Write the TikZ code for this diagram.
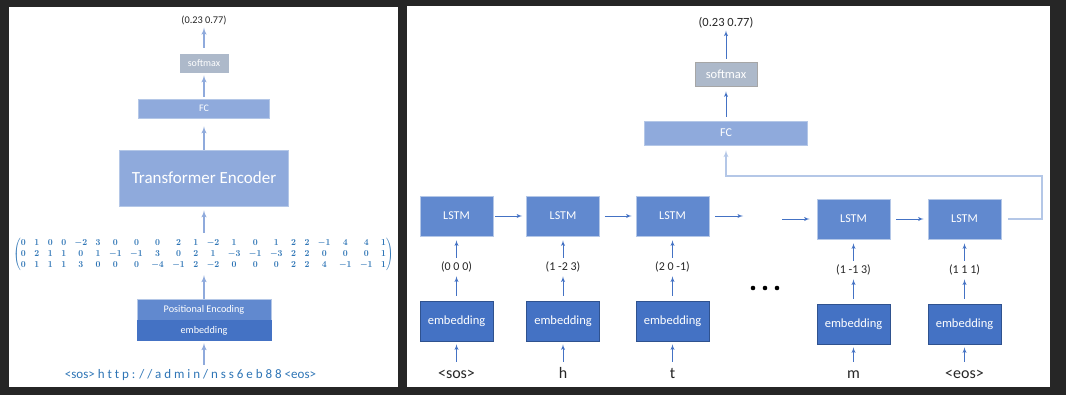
\documentclass[tikz,border=0pt]{standalone}
\usepackage{fontspec}
\setmainfont{Carlito}
\usepackage{amsmath}
\usepackage{graphicx}
\usetikzlibrary{arrows,positioning}
\setcounter{MaxMatrixCols}{21}

\definecolor{darkbg}{HTML}{262626}
\definecolor{lstmblue}{HTML}{6189CF}
\definecolor{embblue}{HTML}{4472C4}
\definecolor{embedge}{HTML}{2F528F}
\definecolor{fcblue}{HTML}{8FAADC}
\definecolor{paleblue}{HTML}{B4C7E7}
\definecolor{smgray}{HTML}{ADB9CA}
\definecolor{txtblue}{HTML}{2E75B6}
\definecolor{txtdark}{HTML}{262626}

\tikzset{
  blk/.style  = {inner sep=0pt, text=white, line width=0.8pt},
  lstm/.style = {blk, fill=lstmblue, draw=paleblue, minimum width=73pt,
                 minimum height=40pt, font=\fontsize{12}{14}\selectfont},
  emb/.style  = {blk, fill=embblue, draw=embedge, minimum width=73pt,
                 minimum height=40pt, font=\fontsize{12.5}{15}\selectfont},
  lbl/.style  = {inner sep=1pt, text=txtdark},
  tok/.style  = {inner sep=1pt, anchor=base, text height=11pt, text depth=3pt,
                 text=txtdark, font=\fontsize{16}{19}\selectfont},
  arr/.style  = {-latex', draw=embblue, line width=0.9pt},
  larr/.style = {-latex', draw=fcblue, line width=1.4pt},
  link/.style = {-latex', draw=paleblue, line width=1.3pt},
}

\begin{document}
\begin{tikzpicture}[x=1pt, y=-1pt, node distance=0pt]
\fill[darkbg] (0,0) rectangle (1066,395);
%
% transformer side
\fill[white] (9,7) rectangle (398,387);
\node (in) [tok, text=txtblue, font=\fontsize{13}{16}\selectfont] at (190.5,378)
  {<sos> h t t p : / / a d m i n / n s s 6 e b 8 8 <eos>};
\node (pe) [blk, fill=lstmblue, draw=paleblue, minimum width=134pt, minimum height=21pt,
  font=\fontsize{10.2}{12}\selectfont] at (204,309.5) {Positional Encoding};
\node (lemb) [blk, fill=embblue, draw=embblue, minimum width=134pt, minimum height=20pt,
  font=\fontsize{10.2}{12}\selectfont, below=of pe] {embedding};
\node (mat) [inner sep=0pt, text=txtblue] at (203.5,254.5) {\resizebox*{380pt}{33pt}{\boldmath$\begin{pmatrix}
 0&1&0&0&-2&3&0&0&0&2&1&-2&1&0&1&2&2&-1&4&4&1\\
 0&2&1&1&0&1&-1&-1&3&0&2&1&-3&-1&-3&2&2&0&0&0&1\\
 0&1&1&1&3&0&0&0&-4&-1&2&-2&0&0&0&2&2&4&-1&-1&1
\end{pmatrix}$}};
\node (enc) [blk, fill=fcblue, draw=paleblue, minimum width=169pt, minimum height=56pt,
  font=\fontsize{17}{20}\selectfont] at (204,178) {Transformer Encoder};
\node (fc) [blk, fill=fcblue, draw=paleblue, minimum width=131pt, minimum height=19pt,
  font=\fontsize{10}{12}\selectfont] at (204,108.5) {FC};
\node (sm) [blk, fill=smgray, draw=white, minimum width=50pt, minimum height=20pt,
  font=\fontsize{10}{12}\selectfont] at (204,63) {softmax};
\node (out) [lbl, font=\fontsize{10.3}{12}\selectfont] at (204,20) {(0.23 0.77)};
%
\draw[larr, shorten <=1pt, shorten >=2pt] (lemb.south |- in.north) -- (lemb);
\draw[larr, shorten >=4pt] (pe.north) -- (pe.north |- mat.south);
\draw[larr, shorten <=5pt, shorten >=4pt] (mat.north -| enc.south) -- (enc);
\draw[larr, shorten >=8pt] (enc) -- (fc);
\draw[larr, shorten <=2pt, shorten >=2pt] (fc) -- (sm);
\draw[larr, shorten <=5pt, shorten >=2pt] (sm) -- (out);
%
% lstm side
\fill[white] (407,6) rectangle (1050,387);
\foreach \x/\y/\v/\t [count=\i] in {456.5/0/{(0 0 0)}/{<sos>}, 563/0/{(1 -2 3)}/h,
    672.5/0/{(2 0 -1)}/t, 853.5/3/{(1 -1 3)}/m, 964.5/3/{(1 1 1)}/{<eos>}}
{
  \node (l\i) [lstm] at (\x,216+\y) {LSTM};
  \node (v\i) [lbl, font=\fontsize{12}{14}\selectfont] at (\x,267+\y) {\v};
  \node (e\i) [emb] at (\x,321+\y) {embedding};
  \node (c\i) [tok] at (\x,378) {\t};
  \draw[arr, shorten <=4pt, shorten >=3pt] (c\i) -- (e\i);
  \draw[arr, shorten <=5pt, shorten >=3pt] (e\i) -- (v\i);
  \draw[arr, shorten <=3pt, shorten >=4pt] (v\i) -- (l\i);
}
\node (rfc) [blk, fill=fcblue, draw=paleblue, minimum width=163pt, minimum height=24pt,
  font=\fontsize{12}{14}\selectfont] at (726,133) {FC};
\node (rsm) [blk, fill=smgray, draw=gray!70, minimum width=62pt, minimum height=24pt,
  font=\fontsize{12.5}{15}\selectfont] at (726,74) {softmax};
\node (rout) [lbl, font=\fontsize{12.5}{15}\selectfont] at (726,23) {(0.23 0.77)};
%
\coordinate (gapa) at (743,216);
\coordinate (gapb) at (782,219);
\coordinate (turn) at (1042,176);
\draw[arr, shorten <=2pt, shorten >=4pt] (l1) -- (l2);
\draw[arr, shorten <=5pt, shorten >=4pt] (l2) -- (l3);
\draw[arr, shorten <=6pt] (l3) -- (gapa);
\draw[arr, shorten >=7pt] (gapb) -- (l4);
\draw[arr, shorten <=6pt, shorten >=4pt] (l4) -- (l5);
\foreach \x in {753,765,777}
  \fill (\x,288) circle (2.3pt);
%
\draw[link, shorten <=7pt, shorten >=5pt] (l5.east) -- (l5.east -| turn) -- (turn) -| (rfc.south);
\draw[arr, shorten <=4pt, shorten >=5pt] (rfc) -- (rsm);
\draw[arr, shorten <=3pt, shorten >=1pt] (rsm) -- (rout);
\end{tikzpicture}
\end{document}
